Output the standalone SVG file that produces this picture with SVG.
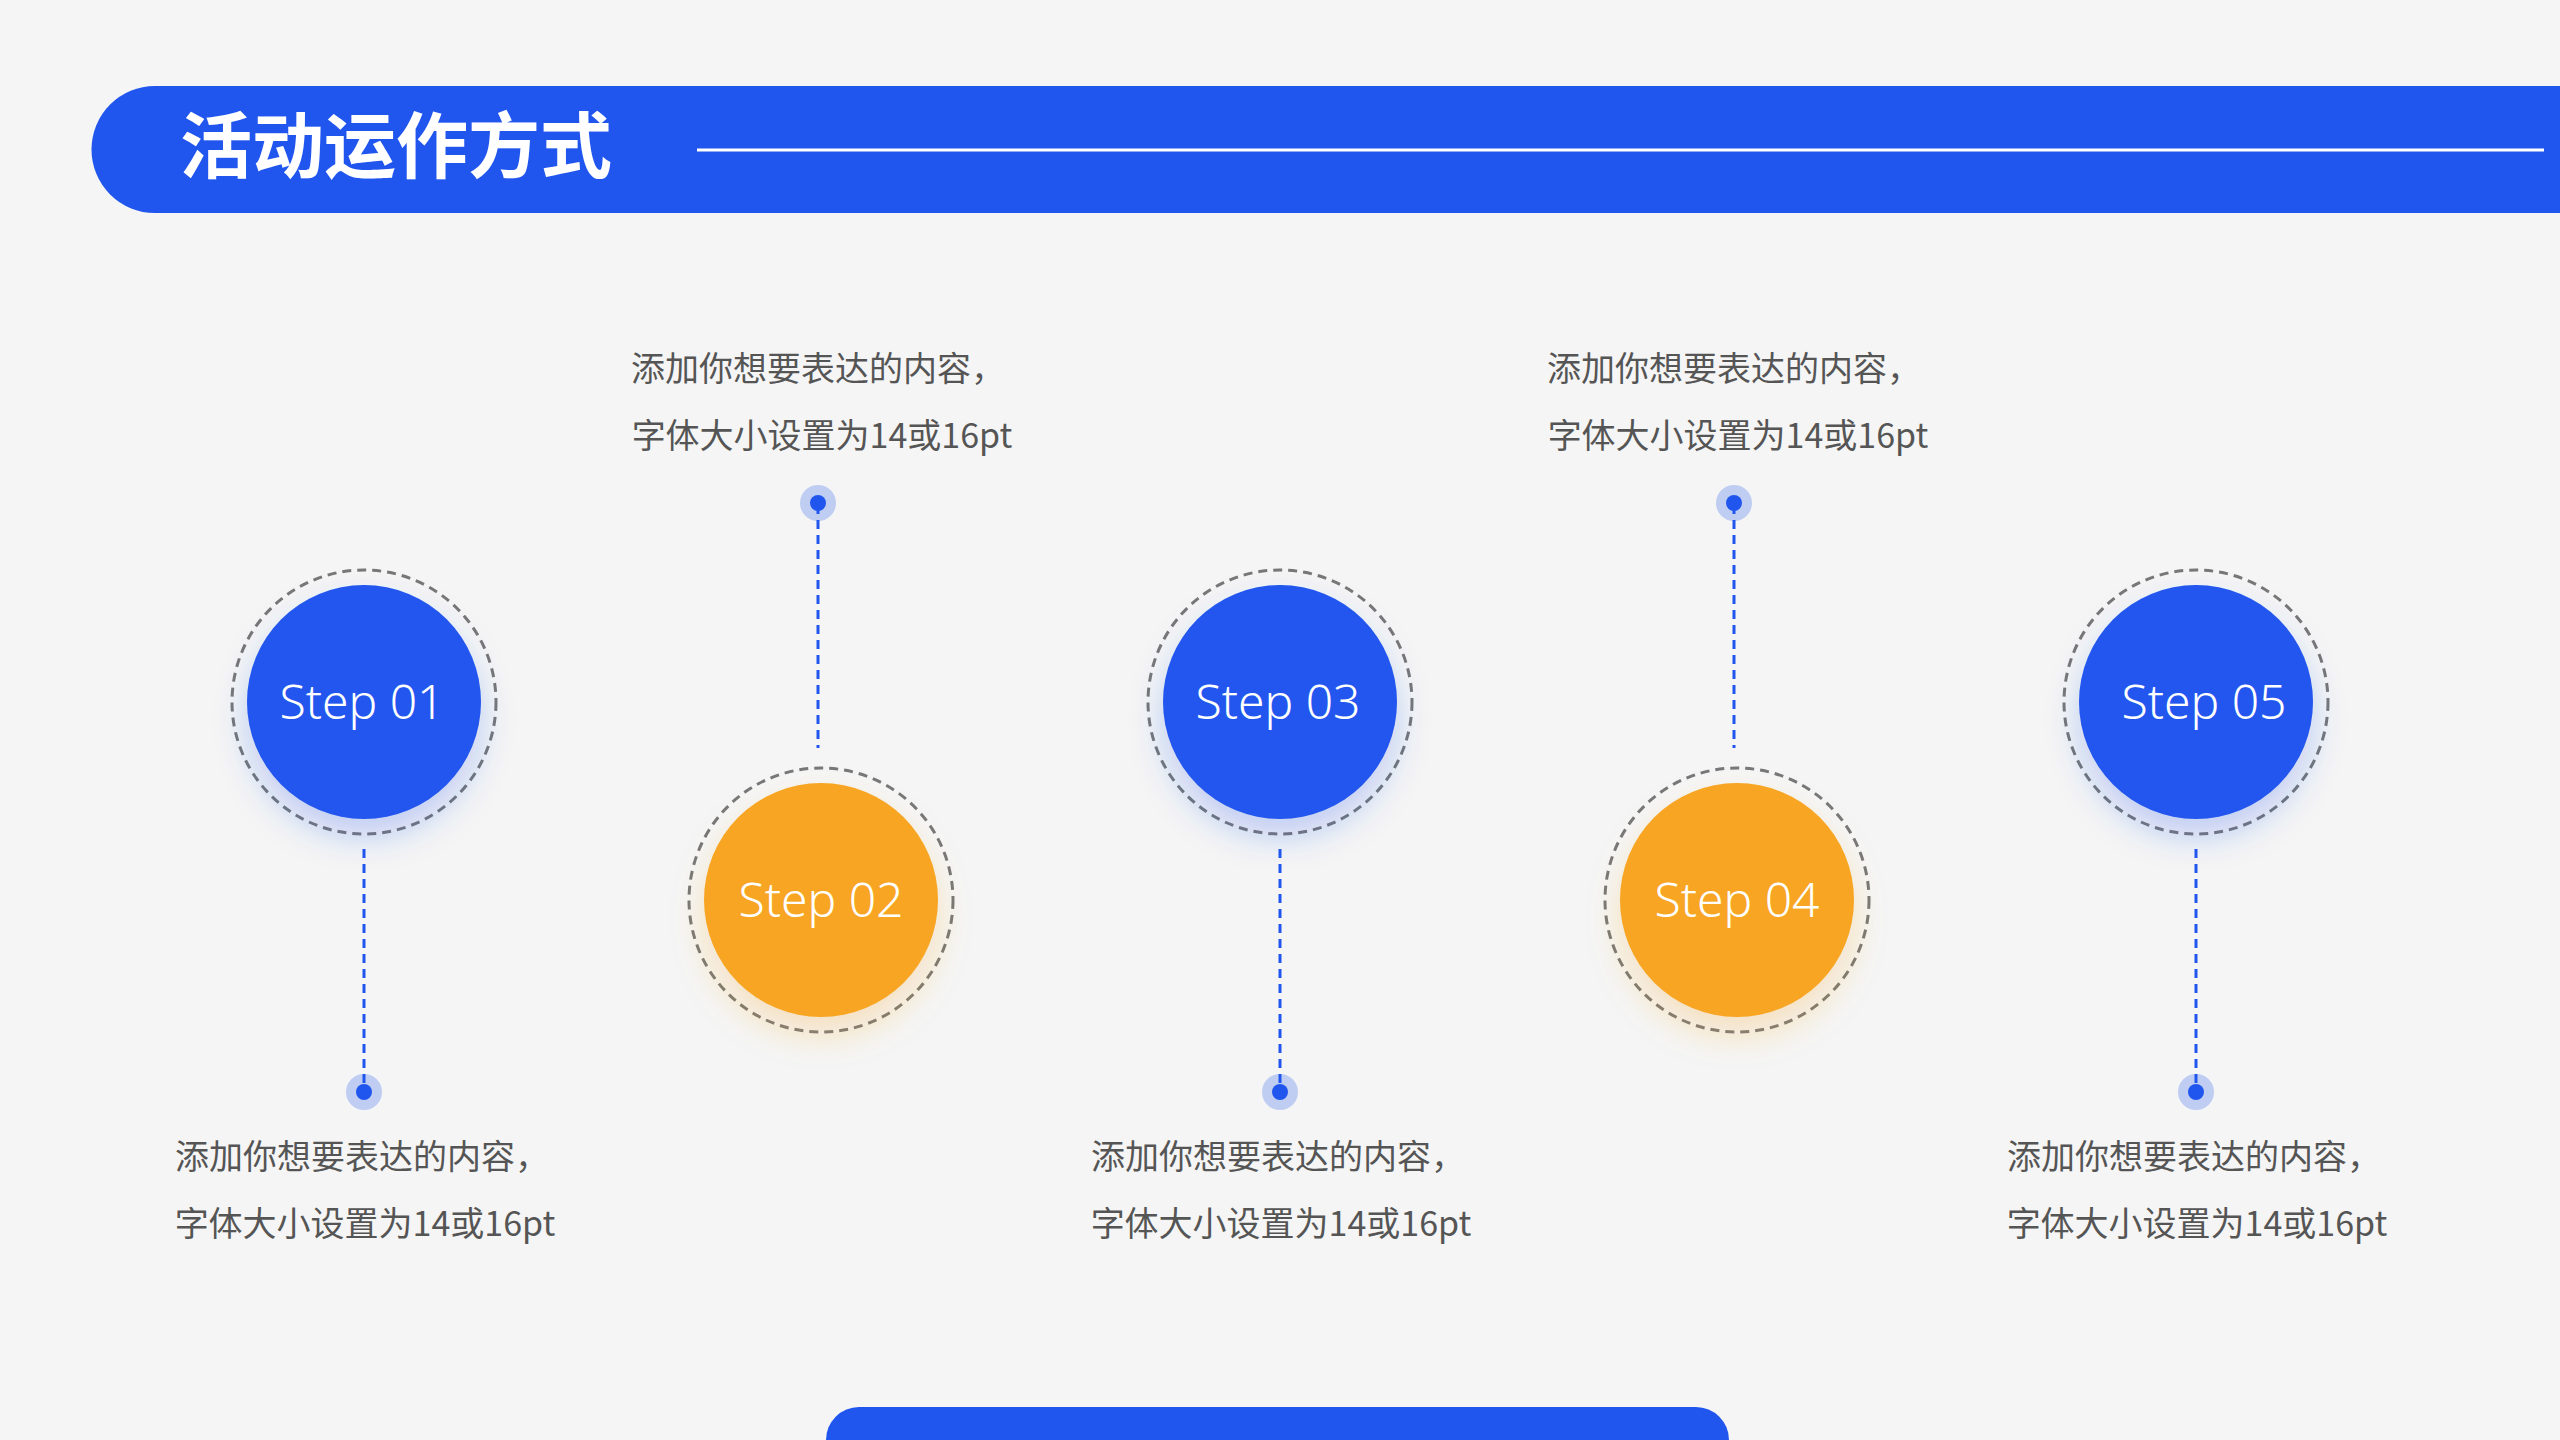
<svg xmlns="http://www.w3.org/2000/svg" width="2560" height="1440" viewBox="0 0 2560 1440">
<defs>
<style>
.t{font-family:"Noto Sans CJK SC","Noto Sans",sans-serif;font-size:34px;fill:#555;text-anchor:middle}
.s{font-family:"Noto Sans","Liberation Sans",sans-serif;font-size:48px;fill:#fff;text-anchor:middle;font-weight:300}
.ring{fill:none;stroke:#777;stroke-width:3;stroke-dasharray:9 6}
.dl{stroke:#2156EE;stroke-width:3;stroke-dasharray:9 6}
.b{fill:#2156EE}.o{fill:#F7A521}
</style>
<filter id="sb" x="-50%" y="-50%" width="200%" height="200%"><feDropShadow dx="0" dy="18" stdDeviation="16" flood-color="#2156EE" flood-opacity="0.25"/></filter>
<filter id="so" x="-50%" y="-50%" width="200%" height="200%"><feDropShadow dx="0" dy="18" stdDeviation="16" flood-color="#F7A521" flood-opacity="0.25"/></filter>
</defs>
<rect width="2560" height="1440" fill="#F5F5F5"/>
<g id="header">
<path d="M155,86 H2560 V213 H155 A63.5,63.5 0 0 1 155,86 Z" fill="#2156EE"/>
<text x="180" y="172" font-family="Noto Sans CJK SC,sans-serif" font-size="72" font-weight="bold" fill="#fff">活动运作方式</text>
<line x1="697" y1="150" x2="2544" y2="150" stroke="#fff" stroke-width="3"/>
</g>
<rect id="footer" x="826" y="1407" width="903" height="80" rx="33" fill="#2156EE"/>
<g id="connectors">
<line class="dl" x1="364" y1="849" x2="364" y2="1090"/>
<line class="dl" x1="818" y1="505" x2="818" y2="748"/>
<line class="dl" x1="1280" y1="849" x2="1280" y2="1090"/>
<line class="dl" x1="1734" y1="505" x2="1734" y2="748"/>
<line class="dl" x1="2196" y1="849" x2="2196" y2="1090"/>
<g id="dots">
<circle cx="364" cy="1092" r="18" fill="#2156EE" opacity="0.25"/><circle cx="364" cy="1092" r="8" class="b"/>
<circle cx="818" cy="503" r="18" fill="#2156EE" opacity="0.25"/><circle cx="818" cy="503" r="8" class="b"/>
<circle cx="1280" cy="1092" r="18" fill="#2156EE" opacity="0.25"/><circle cx="1280" cy="1092" r="8" class="b"/>
<circle cx="1734" cy="503" r="18" fill="#2156EE" opacity="0.25"/><circle cx="1734" cy="503" r="8" class="b"/>
<circle cx="2196" cy="1092" r="18" fill="#2156EE" opacity="0.25"/><circle cx="2196" cy="1092" r="8" class="b"/>
</g>
</g>
<g id="step01"><circle class="ring" cx="364" cy="702" r="132"/><circle class="b" filter="url(#sb)" cx="364" cy="702" r="117"/><text class="s" x="362" y="719">Step 01</text>
<text class="t" x="362" y="1169">添加你想要表达的内容，</text><text class="t" x="365" y="1236">字体大小设置为14或16pt</text></g>
<g id="step02"><circle class="ring" cx="821" cy="900" r="132"/><circle class="o" filter="url(#so)" cx="821" cy="900" r="117"/><text class="s" x="821" y="917">Step 02</text>
<text class="t" x="818" y="381">添加你想要表达的内容，</text><text class="t" x="822" y="448">字体大小设置为14或16pt</text></g>
<g id="step03"><circle class="ring" cx="1280" cy="702" r="132"/><circle class="b" filter="url(#sb)" cx="1280" cy="702" r="117"/><text class="s" x="1278" y="719">Step 03</text>
<text class="t" x="1278" y="1169">添加你想要表达的内容，</text><text class="t" x="1281" y="1236">字体大小设置为14或16pt</text></g>
<g id="step04"><circle class="ring" cx="1737" cy="900" r="132"/><circle class="o" filter="url(#so)" cx="1737" cy="900" r="117"/><text class="s" x="1737" y="917">Step 04</text>
<text class="t" x="1734" y="381">添加你想要表达的内容，</text><text class="t" x="1738" y="448">字体大小设置为14或16pt</text></g>
<g id="step05"><circle class="ring" cx="2196" cy="702" r="132"/><circle class="b" filter="url(#sb)" cx="2196" cy="702" r="117"/><text class="s" x="2204" y="719">Step 05</text>
<text class="t" x="2194" y="1169">添加你想要表达的内容，</text><text class="t" x="2197" y="1236">字体大小设置为14或16pt</text></g>
</svg>
